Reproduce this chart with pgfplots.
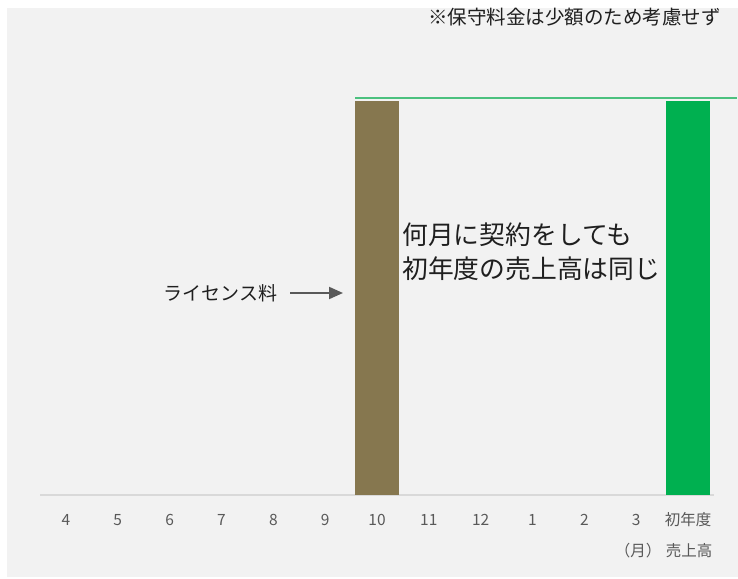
\documentclass[border=0pt]{standalone}
\usepackage{fontspec}
\setmainfont{Noto Sans CJK JP}
\usepackage{pgfplots}
\pgfplotsset{compat=1.18}
\usetikzlibrary{arrows.meta}
\definecolor{bgray}{HTML}{F2F2F2}
\definecolor{barbrown}{HTML}{86774F}
\definecolor{kgreen}{HTML}{00B050}
\definecolor{lgreen}{HTML}{4CC17F}
\definecolor{tgray}{HTML}{595959}
\definecolor{axgray}{HTML}{D9D9D9}
\definecolor{ink}{HTML}{1F1F1F}

\begin{document}
\begin{tikzpicture}[x=1pt,y=1pt]
% background
\fill[white] (0,0) rectangle (738,578);
\fill[bgray] (7,1) rectangle (738,570);
\begin{axis}[
  at={(40pt,83pt)}, anchor=south west,
  scale only axis, width=674pt, height=472.8pt,
  xmin=-0.5, xmax=12.5, ymin=0, ymax=1.2,
  axis y line=none, axis x line=bottom,
  x axis line style={draw=axgray, line width=1.5pt, -},
  xtick={0,...,12},
  xticklabels={4,5,6,7,8,9,10,11,12,1,2,3,初年度},
  major tick length=0pt,
  x tick label style={font=\fontsize{15.5}{18}\selectfont, text=tgray, anchor=base, yshift=-30.5pt},
  clip=false,
]
%license fee
\addplot[ybar, bar width=44pt, bar shift=0pt, fill=barbrown, draw=none] coordinates {(6,1)};
%first year sales
\addplot[ybar, bar width=44pt, bar shift=0pt, fill=kgreen, draw=none] coordinates {(12,1)};
%level line
\addplot[sharp plot, lgreen, line width=1.5pt] coordinates {(5.577,1.007) (12.94,1.007)};
\end{axis}
\node[anchor=base, font=\fontsize{15.5}{18}\selectfont, text=tgray] at (689,21.3) {売上高};
\node[anchor=base, font=\fontsize{15.5}{18}\selectfont, text=tgray] at (638,21.3) {（月）};
\node[anchor=west, inner sep=0pt, font=\fontsize{19.5}{22}\selectfont, text=ink] at (428,561) {※保守料金は少額のため考慮せず};
\node[anchor=west, inner sep=0pt, font=\fontsize{25.8}{30}\selectfont, text=ink] at (402,343) {何月に契約をしても};
\node[anchor=west, inner sep=0pt, font=\fontsize{25.8}{30}\selectfont, text=ink] at (402,309) {初年度の売上高は同じ};
\node[anchor=west, inner sep=0pt, font=\fontsize{19}{22}\selectfont, text=ink] at (163.5,285) {ライセンス料};
\draw[tgray, line width=2pt, -{Triangle[length=14pt,width=12pt]}] (290,285) -- (343,285);
\pgfresetboundingbox
\path (0,0) rectangle (738,578);
\end{tikzpicture}
\end{document}
